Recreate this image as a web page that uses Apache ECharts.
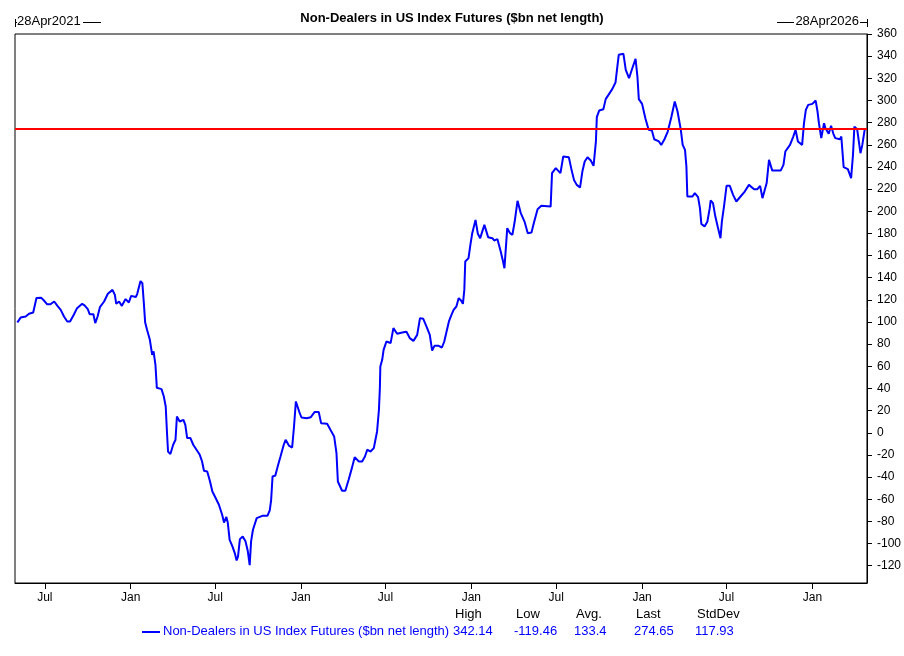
<!DOCTYPE html>
<html lang="en">
<head>
    <meta charset="UTF-8">
    <title>Non-Dealers in US Index Futures</title>
    <script src="https://cdn.jsdelivr.net/npm/echarts@6/dist/echarts.min.js"></script>
    <style>
        body { margin: 0; background: #fff; }
    </style>
</head>
<body>
<div id="chart" style="width: 904px;height:656px;"></div>
<script>
    var seriesName = 'Non-Dealers in US Index Futures ($bn net length)';

    // weekly readings
    var weekDates = [
        '2021-05-03','2021-05-10','2021-05-21','2021-05-28','2021-06-06','2021-06-13','2021-06-23','2021-06-29',
        '2021-07-06','2021-07-13','2021-07-21','2021-07-28','2021-08-04','2021-08-11','2021-08-18','2021-08-24',
        '2021-09-01','2021-09-08','2021-09-19','2021-09-24','2021-10-01','2021-10-05','2021-10-13','2021-10-17',
        '2021-10-22','2021-10-27','2021-11-05','2021-11-13','2021-11-23','2021-11-28','2021-12-01','2021-12-07',
        '2021-12-13','2021-12-21','2021-12-28',
        '2022-01-02','2022-01-12','2022-01-15','2022-01-22','2022-01-26','2022-01-29','2022-02-01','2022-02-05',
        '2022-02-11','2022-02-16','2022-02-19','2022-02-23','2022-02-26','2022-03-08','2022-03-13','2022-03-17',
        '2022-03-20','2022-03-22','2022-03-27','2022-04-02','2022-04-07','2022-04-10','2022-04-16','2022-04-24',
        '2022-04-28','2022-05-02','2022-05-09','2022-05-15','2022-05-22','2022-05-29','2022-06-03','2022-06-07',
        '2022-06-14','2022-06-20','2022-06-25','2022-07-02','2022-07-09','2022-07-16','2022-07-20','2022-07-25',
        '2022-07-28','2022-08-01','2022-08-07','2022-08-12','2022-08-16','2022-08-19','2022-08-23','2022-08-29',
        '2022-09-04','2022-09-09','2022-09-13','2022-09-16','2022-09-20','2022-09-28','2022-10-10','2022-10-21',
        '2022-10-26','2022-10-29','2022-11-01','2022-11-07','2022-11-12','2022-11-18','2022-11-25','2022-11-29',
        '2022-12-06','2022-12-13','2022-12-17','2022-12-21','2022-12-28',
        '2023-01-02','2023-01-13','2023-01-22','2023-01-30','2023-02-08','2023-02-13','2023-02-26','2023-03-05',
        '2023-03-13','2023-03-18','2023-03-21','2023-03-30','2023-04-06','2023-04-13','2023-04-20','2023-04-26',
        '2023-05-05','2023-05-12','2023-05-18','2023-05-23','2023-05-30','2023-06-06','2023-06-13','2023-06-17',
        '2023-06-19','2023-06-20','2023-06-24','2023-06-27','2023-07-03','2023-07-12','2023-07-18','2023-07-26',
        '2023-08-06','2023-08-15','2023-08-22','2023-08-30','2023-09-07','2023-09-13','2023-09-20','2023-09-27',
        '2023-10-04','2023-10-09','2023-10-14','2023-10-23','2023-10-30','2023-11-04','2023-11-09','2023-11-14',
        '2023-11-19','2023-11-24','2023-11-30','2023-12-05','2023-12-10','2023-12-14','2023-12-17','2023-12-19',
        '2023-12-26','2023-12-30',
        '2024-01-03','2024-01-10','2024-01-15','2024-01-20','2024-01-29','2024-02-06','2024-02-15','2024-02-19',
        '2024-02-26','2024-03-04','2024-03-09','2024-03-12','2024-03-18','2024-03-24','2024-03-29','2024-04-03',
        '2024-04-09','2024-04-16','2024-04-24','2024-05-01','2024-05-09','2024-05-14','2024-05-22','2024-05-30',
        '2024-06-19','2024-06-22','2024-06-30','2024-07-04','2024-07-10','2024-07-16','2024-07-28','2024-08-02',
        '2024-08-08','2024-08-14','2024-08-21','2024-08-26','2024-08-31','2024-09-06','2024-09-13','2024-09-19',
        '2024-09-24','2024-09-26','2024-10-01','2024-10-10','2024-10-15','2024-10-22','2024-10-29','2024-11-05',
        '2024-11-09','2024-11-12','2024-11-22','2024-11-27','2024-12-04','2024-12-11','2024-12-18','2024-12-22',
        '2024-12-25',
        '2025-01-01','2025-01-08','2025-01-15','2025-01-22','2025-01-27','2025-02-06','2025-02-11','2025-02-18',
        '2025-02-25','2025-03-05','2025-03-12','2025-03-18','2025-03-25','2025-03-29','2025-04-03','2025-04-06',
        '2025-04-08','2025-04-19','2025-04-24','2025-05-01','2025-05-05','2025-05-08','2025-05-15','2025-05-21',
        '2025-05-26','2025-05-28','2025-06-02','2025-06-07','2025-06-12','2025-06-18','2025-06-21','2025-06-26',
        '2025-07-01','2025-07-08','2025-07-15','2025-07-22','2025-07-31','2025-08-09','2025-08-18','2025-08-29',
        '2025-09-05','2025-09-11','2025-09-16','2025-09-25','2025-09-30','2025-10-07','2025-10-25','2025-10-31',
        '2025-11-04','2025-11-14','2025-11-21','2025-11-26','2025-12-01','2025-12-10','2025-12-14','2025-12-18',
        '2025-12-23',
        '2026-01-01','2026-01-08','2026-01-12','2026-01-15','2026-01-20','2026-01-26','2026-01-29','2026-02-02',
        '2026-02-05','2026-02-10','2026-02-15','2026-02-19','2026-03-01','2026-03-04','2026-03-09','2026-03-18',
        '2026-03-25','2026-03-29','2026-04-01','2026-04-07','2026-04-14','2026-04-18','2026-04-23','2026-04-25'
    ];

    var netLength = [
        99.5, 104, 105, 107.4, 108.6, 121.6, 122, 119.4,
        116, 116, 118.5, 114.6, 111, 105, 100.5, 100.5,
        106.5, 112.5, 116.4, 115, 111.6, 107, 107, 99,
        105, 113.4, 118.5, 125.5, 129, 124.5, 116.4, 118.5,
        114.6, 120.7, 117.6,
        123.6, 122.5, 125.5, 137, 135, 118, 99.5, 93,
        84, 70.4, 73.4, 61.4, 40.6, 39.4, 32.8, 23.7,
        -1.8, -16.9, -19.2, -10.8, -6.3, 14.7, 10.2, 11.7,
        7.2, -4.8, -4.8, -10.8, -15.3, -19.9, -25.9, -34.3,
        -34.9, -43.9, -53, -58.9, -65, -74, -81, -76,
        -81, -96.6, -102.6, -108.6, -115.3, -111.6, -96, -93.6,
        -98, -107, -119.46, -98, -87.5, -77, -75, -75,
        -70, -60.5, -39.4, -38.5, -30.4, -21.4, -10.8, -6.3,
        -11.5, -13.3, 5.7, 28.3, 19.2,
        13.8, 13.2, 14.1, 18.7, 18.7, 8.7, 8.1, 2.7,
        -3.3, -18.4, -44, -52.3, -52.3, -42.4, -31.9, -22,
        -25.9, -25.9, -21.4, -15.3, -16.9, -13.8, 1.2, 20.8,
        40.3, 59.8, 65.9, 74.9, 82.4, 81, 94.5, 89.4,
        90.5, 91.2, 85.5, 83, 88.4, 103.5, 102.9, 95.9,
        88.4, 74.3, 78.5, 78.5, 77, 82.4, 91.4, 100.5,
        105.9, 111, 114, 121.6, 119.4, 116.4, 129, 154.6,
        157.7, 169.7,
        180.2, 192.2, 179.6, 175.7, 187.7, 176.6, 175.7, 173.6,
        174.8, 163.6, 154.6, 148.6, 184.7, 180.2, 178.7, 190.7,
        209.4, 198.3, 190.7, 180.2, 180.8, 189.3, 201.9, 204.9,
        204.2, 234.4, 238.9, 238.9, 234.4, 249.4, 248.8, 238.9,
        228.3, 223.8, 221.4, 235.8, 244.9, 248.8, 245.8, 241,
        262.9, 284.9, 290.9, 292.1, 301.2, 305.7, 310.2, 316.2,
        330.6, 341.2, 342.14, 327.6, 320.1, 329.1, 337.5, 321.6,
        301.2,
        296.9, 284, 273.5, 272.8, 265, 263, 259.9, 265,
        271.9, 285.5, 299, 290, 273.5, 259.9, 255.4, 240.3,
        213.3, 213.3, 216.3, 212.7, 202.8, 188.6, 186.2, 190.7,
        202.8, 209.7, 207.3, 195.2, 186.2, 175.7, 190.7, 205.8,
        222.9, 222.9, 214.8, 208.8, 213.3, 217.8, 223.8, 219.9,
        219.9, 222.9, 211.8, 225.4, 246.4, 236.7, 236.7, 241.9,
        253.9, 259.9, 267.4, 273.5, 262.9, 259.9, 279.5, 291.5,
        296,
        296.9, 299.9, 290, 279.5, 266, 279.5, 275, 273.5,
        269.9, 277.1, 269.9, 266, 265, 267.4, 239.8, 238,
        229.9, 250.9, 276.4, 274, 252.4, 259.9, 273.5, 274.65
    ];

    var rangeStart = '2021-04-28';
    var rangeEnd = '2026-04-28';
    var rangeLabels = ['28Apr2021', '28Apr2026'];

    var monthTicks = ['2021-07-01','2022-01-01','2022-07-01','2023-01-01','2023-07-01',
        '2024-01-01','2024-07-01','2025-01-01','2025-07-01','2026-01-01'];
    var yTicks = [360, 340, 320, 300, 280, 260, 240, 220, 200, 180, 160, 140, 120, 100, 80, 60,
        40, 20, 0, -20, -40, -60, -80, -100, -120];

    var statNames = ['High', 'Low', 'Avg.', 'Last', 'StdDev'];
    var statValues = ['342.14', '-119.46', '133.4', '274.65', '117.93'];
    var lastValue = 274.65;

    var FONT = '"Liberation Sans", Arial, sans-serif';

    function ts(s) { return Date.parse(s + 'T00:00:00Z'); }

    var lineData = weekDates.map(function (d, i) { return [ts(d), netLength[i]]; });
    var tickTs = monthTicks.map(ts);

    // header + legend drawn as graphic elements
    var graphics = [
        { type: 'line', shape: { x1: 15.5, y1: 19, x2: 15.5, y2: 27 }, style: { stroke: '#000', lineWidth: 1 } },
        { type: 'line', shape: { x1: 15, y1: 22.5, x2: 17, y2: 22.5 }, style: { stroke: '#000', lineWidth: 1 } },
        { type: 'text', left: 17, top: 15, style: { text: rangeLabels[0], font: '13px ' + FONT, fill: '#000' } },
        { type: 'line', shape: { x1: 83, y1: 22.5, x2: 101, y2: 22.5 }, style: { stroke: '#000', lineWidth: 1 } },
        { type: 'line', shape: { x1: 777, y1: 22.5, x2: 794, y2: 22.5 }, style: { stroke: '#000', lineWidth: 1 } },
        { type: 'text', right: 904 - 859, top: 15, style: { text: rangeLabels[1], font: '13px ' + FONT, fill: '#000' } },
        { type: 'line', shape: { x1: 860, y1: 22.5, x2: 868, y2: 22.5 }, style: { stroke: '#000', lineWidth: 1 } },
        { type: 'line', shape: { x1: 867.5, y1: 19, x2: 867.5, y2: 27 }, style: { stroke: '#000', lineWidth: 1 } },
        { type: 'line', shape: { x1: 142, y1: 632, x2: 160, y2: 632 }, style: { stroke: '#0000ff', lineWidth: 2 } },
        { type: 'text', left: 163, top: 625, style: { text: seriesName, font: '13px ' + FONT, fill: '#0000ff' } }
    ];
    var statX = [455, 516, 576, 636, 697];
    for (var i = 0; i < statNames.length; i++) {
        graphics.push({ type: 'text', left: statX[i], top: 608,
            style: { text: statNames[i], font: '13px ' + FONT, fill: '#000' } });
        graphics.push({ type: 'text', left: statX[i] - 2, top: 625,
            style: { text: statValues[i], font: '13px ' + FONT, fill: '#0000ff' } });
    }

    var myChart = echarts.init(document.getElementById('chart'));
    myChart.setOption({
        animation: false,
        backgroundColor: '#fff',
        title: {
            text: seriesName,
            left: 'center',
            top: 7,
            textStyle: { fontFamily: FONT, fontSize: 13, fontWeight: 'bold', color: '#000' }
        },
        grid: {
            left: 15, right: 36, top: 34, bottom: 73,
            show: true, borderColor: '#000', borderWidth: 1, backgroundColor: '#fff'
        },
        xAxis: {
            type: 'value',
            min: ts(rangeStart),
            max: ts(rangeEnd),
            axisLine: { show: true, onZero: false, lineStyle: { color: '#000', width: 1 } },
            axisTick: { show: true, customValues: tickTs, length: 6, lineStyle: { color: '#000' } },
            axisLabel: {
                customValues: tickTs,
                margin: 9,
                color: '#000',
                fontFamily: FONT,
                fontSize: 12,
                formatter: function (v) {
                    return new Date(v).getUTCMonth() === 0 ? 'Jan' : 'Jul';
                }
            },
            splitLine: { show: false }
        },
        yAxis: {
            type: 'value',
            position: 'right',
            min: -135.6,
            max: 360,
            axisLine: { show: true, onZero: false, lineStyle: { color: '#000', width: 1 } },
            axisTick: { show: true, customValues: yTicks, length: 5, lineStyle: { color: '#000' } },
            axisLabel: { customValues: yTicks, margin: 10, color: '#000', fontFamily: FONT, fontSize: 12 },
            splitLine: { show: false }
        },
        series: [{
            name: seriesName,
            type: 'line',
            data: lineData,
            symbol: 'none',
            lineStyle: { color: '#0000ff', width: 2 },
            markLine: {
                silent: true,
                symbol: 'none',
                label: { show: false },
                lineStyle: { color: '#ff0000', width: 2, type: 'solid' },
                data: [{ yAxis: lastValue }]
            }
        }],
        graphic: graphics
    });
</script>
</body>
</html>
